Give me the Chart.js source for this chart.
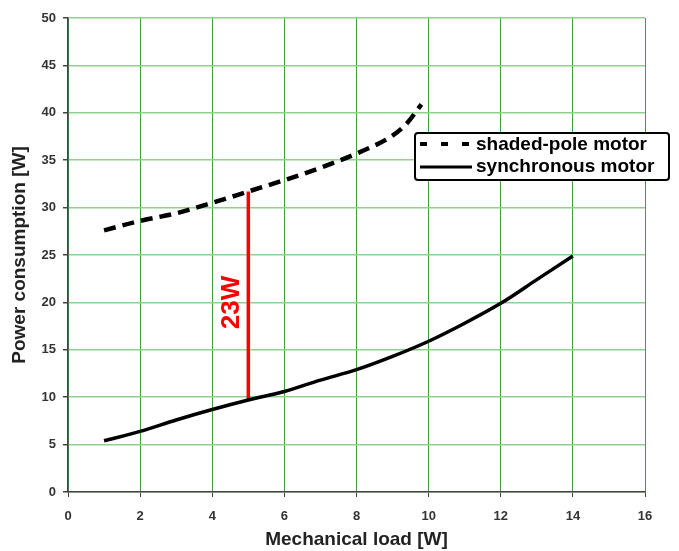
<!DOCTYPE html>
<html lang="en">
<head>
<meta charset="UTF-8" />
<title>Power consumption vs mechanical load</title>
<script src="https://cdn.jsdelivr.net/npm/chart.js"></script>
<style>
  html, body { margin: 0; padding: 0; background: #fff; }
  #wrap { width: 679px; height: 551px; }
</style>
</head>
<body>
<div id="wrap"><canvas id="motorChart"></canvas></div>
<script>
// data
const shadedX = [1, 2, 3, 4, 5, 6, 7, 8, 9, 9.4, 9.8];
const shadedY = [27.6, 28.6, 29.4, 30.5, 31.7, 32.9, 34.2, 35.7, 37.6, 38.9, 40.9];
const syncX = [1, 2, 3, 4, 5, 6, 7, 8, 9, 10, 11, 12, 13, 14];
const syncY = [5.4, 6.4, 7.6, 8.7, 9.7, 10.6, 11.8, 12.9, 14.3, 15.9, 17.8, 19.9, 22.4, 24.9];
const gapX = [5, 5];
const gapY = [9.7, 31.7];
const gapLabel = "23W";
const seriesNames = ["shaded-pole motor", "synchronous motor"];
const xTicks = [0, 2, 4, 6, 8, 10, 12, 14, 16];
const yTicks = [0, 5, 10, 15, 20, 25, 30, 35, 40, 45, 50];

const FONT = "Arial, 'Liberation Sans', sans-serif";

const toPts = (xs, ys) => xs.map((x, i) => ({ x: x, y: ys[i] }));

// rotated "23W" next to the red line + legend box
const extras = {
  id: "extras",
  afterDatasetsDraw(chart) {
    const ctx = chart.ctx;
    const xs = chart.scales.x, ys = chart.scales.y;

    ctx.save();
    ctx.translate(xs.getPixelForValue(4.55), ys.getPixelForValue(20));
    ctx.rotate(-Math.PI / 2);
    ctx.fillStyle = "#ff0000";
    ctx.font = "bold 26px " + FONT;
    ctx.textAlign = "center";
    ctx.textBaseline = "middle";
    ctx.fillText(gapLabel, 0, 0);
    ctx.restore();

    // legend
    const bx = 415, by = 133, bw = 254, bh = 47;
    ctx.save();
    ctx.fillStyle = "#fff";
    ctx.strokeStyle = "#000";
    ctx.lineWidth = 2;
    ctx.beginPath();
    ctx.roundRect(bx, by, bw, bh, 3);
    ctx.fill();
    ctx.stroke();

    ctx.lineWidth = 4;
    ctx.setLineDash([7, 14]);
    ctx.beginPath();
    ctx.moveTo(420, 144);
    ctx.lineTo(472, 144);
    ctx.stroke();

    ctx.lineWidth = 3;
    ctx.setLineDash([]);
    ctx.beginPath();
    ctx.moveTo(420, 167);
    ctx.lineTo(472, 167);
    ctx.stroke();

    ctx.fillStyle = "#000";
    ctx.font = "bold 19px " + FONT;
    ctx.textAlign = "left";
    ctx.textBaseline = "alphabetic";
    ctx.fillText(seriesNames[0], 476, 150);
    ctx.fillText(seriesNames[1], 476, 172);
    ctx.restore();
  }
};

new Chart(document.getElementById("motorChart"), {
  type: "scatter",
  data: {
    datasets: [
      {
        label: seriesNames[0],
        data: toPts(shadedX, shadedY),
        showLine: true,
        borderColor: "#000",
        borderWidth: 4.5,
        borderDash: [12, 7],
        cubicInterpolationMode: "monotone",
        pointRadius: 0
      },
      {
        label: seriesNames[1],
        data: toPts(syncX, syncY),
        showLine: true,
        borderColor: "#000",
        borderWidth: 3.5,
        cubicInterpolationMode: "monotone",
        pointRadius: 0
      },
      {
        label: gapLabel,
        data: toPts(gapX, gapY),
        showLine: true,
        borderColor: "#ff0000",
        borderWidth: 3.5,
        pointRadius: 0
      }
    ]
  },
  options: {
    responsive: true,
    maintainAspectRatio: false,
    animation: false,
    layout: { padding: { top: 18, right: 34, left: 0, bottom: 0 } },
    plugins: {
      legend: { display: false },
      tooltip: { enabled: false }
    },
    scales: {
      x: {
        type: "linear",
        min: 0,
        max: 16,
        afterBuildTicks: s => { s.ticks = xTicks.map(v => ({ value: v })); },
        afterFit: s => { s.height = 59; },
        grid: { color: "#3f9f3f", lineWidth: 1, tickColor: "#444", tickLength: 5 },
        border: { color: "#444", width: 1.5 },
        ticks: { color: "#333", padding: 12, font: { family: FONT, size: 13, weight: "bold" } },
        title: {
          display: true,
          text: "Mechanical load [W]",
          color: "#222",
          padding: { top: 0, bottom: 0 },
          font: { family: FONT, size: 19, weight: "bold" }
        }
      },
      y: {
        type: "linear",
        min: 0,
        max: 50,
        afterBuildTicks: s => { s.ticks = yTicks.map(v => ({ value: v })); },
        afterFit: s => { s.width = 68; },
        grid: { color: "#8fcf8f", lineWidth: 1.5, tickColor: "#444", tickLength: 5 },
        border: { color: "#444", width: 1.5 },
        ticks: { color: "#333", padding: 7, font: { family: FONT, size: 13, weight: "bold" } },
        title: {
          display: true,
          text: "Power consumption [W]",
          color: "#222",
          padding: { top: 8, bottom: 0 },
          font: { family: FONT, size: 19, weight: "bold" }
        }
      }
    }
  },
  plugins: [extras]
});
</script>
</body>
</html>
